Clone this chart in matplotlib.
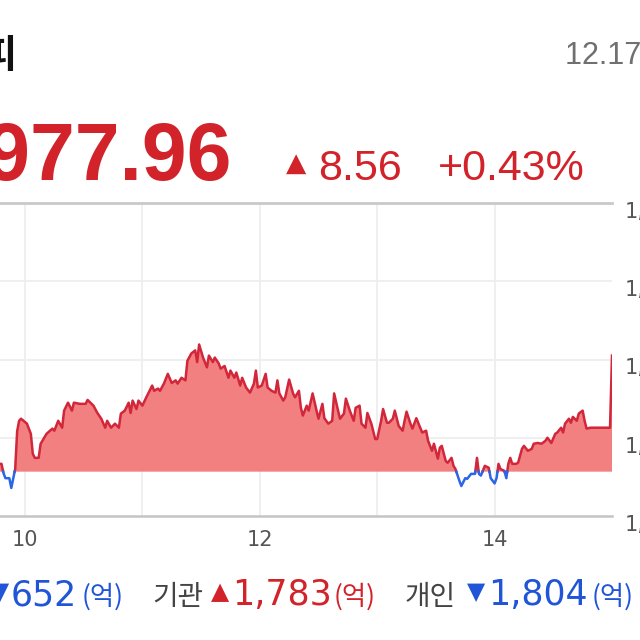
import numpy as np
import matplotlib
matplotlib.use("Agg")
import matplotlib.pyplot as plt
from matplotlib.transforms import ScaledTranslation

# ---------------- data ----------------
index_name = "코스피"
date_label = "12.17 장마감"
prev_close = 1969.40
close_value = 1977.96
change_points = 8.56
change_pct = 0.43

# minutes after 09:00 and index values (intraday)
minutes = [47, 48, 49, 50, 52, 53, 54, 55, 56, 57, 58, 61, 63, 64, 65, 67, 68, 71, 74, 75,
           77, 79, 80, 82, 84, 85, 88, 91, 92, 95, 97, 99, 101, 102, 104, 106, 108, 109, 111, 113,
           114, 115, 117, 118, 120, 122, 125, 126, 128, 129, 131, 133, 135, 137, 138, 140, 142, 143, 145, 147,
           148, 149, 151, 153, 154, 156, 157, 159, 160, 162, 164, 165, 167, 168, 170, 171, 173, 175, 177, 178,
           179, 181, 183, 184, 186, 188, 189, 190, 192, 193, 195, 197, 198, 200, 201, 202, 204, 205, 207, 209,
           210, 212, 213, 215, 217, 218, 220, 221, 223, 224, 226, 228, 229, 231, 232, 234, 235, 237, 239, 240,
           242, 243, 245, 246, 248, 249, 251, 253, 254, 255, 257, 258, 260, 262, 263, 265, 266, 268, 269, 271,
           272, 273, 275, 276, 278, 279, 280, 282, 283, 285, 286, 288, 290, 291, 292, 293, 295, 297, 298, 300,
           301, 302, 303, 305, 306, 307, 308, 309, 311, 312, 314, 315, 317, 319, 320, 322, 324, 326, 327, 329,
           331, 332, 334, 335, 336, 338, 339, 340, 342, 343, 345, 346, 347, 349, 359, 360]
values = [1970.00, 1970.00, 1969.30, 1968.90, 1968.90, 1968.15, 1968.90, 1969.60, 1972.50, 1973.30,
          1973.46, 1973.08, 1972.30, 1970.77, 1970.46, 1970.46, 1971.54, 1972.30, 1972.70, 1972.54,
          1973.30, 1972.77, 1974.08, 1974.69, 1974.08, 1974.69, 1974.60, 1974.60, 1974.90, 1974.46,
          1973.90, 1973.46, 1972.77, 1973.30, 1972.77, 1973.08, 1972.77, 1973.85, 1974.08, 1974.69,
          1973.90, 1974.85, 1974.20, 1974.85, 1974.46, 1975.10, 1976.00, 1975.60, 1975.77, 1975.60,
          1976.15, 1976.90, 1976.20, 1976.40, 1976.15, 1976.60, 1976.40, 1977.90, 1978.46, 1978.70,
          1977.80, 1979.15, 1978.15, 1977.40, 1978.30, 1977.80, 1978.15, 1977.70, 1977.30, 1977.50,
          1976.60, 1977.15, 1976.60, 1977.00, 1976.00, 1976.60, 1975.85, 1975.46, 1976.15, 1977.15,
          1975.85, 1976.00, 1976.90, 1975.85, 1975.60, 1975.46, 1976.40, 1975.40, 1974.85, 1975.10,
          1976.46, 1975.40, 1975.10, 1975.60, 1974.30, 1973.70, 1974.46, 1974.08, 1975.40, 1974.08,
          1973.46, 1974.60, 1973.50, 1973.08, 1973.30, 1975.40, 1974.08, 1973.46, 1973.85, 1975.00,
          1974.08, 1973.30, 1974.30, 1974.46, 1973.08, 1972.77, 1973.90, 1973.08, 1971.90, 1971.90,
          1973.30, 1974.20, 1973.15, 1973.15, 1973.46, 1974.08, 1972.90, 1972.54, 1973.30, 1974.00,
          1973.08, 1972.70, 1973.50, 1972.77, 1972.40, 1972.54, 1971.77, 1971.00, 1971.54, 1970.40,
          1971.23, 1971.38, 1970.23, 1970.08, 1970.46, 1969.85, 1969.60, 1968.70, 1968.30, 1968.90,
          1968.85, 1969.23, 1969.23, 1970.46, 1969.23, 1969.10, 1969.85, 1969.70, 1968.90, 1968.50,
          1968.90, 1970.00, 1969.60, 1969.46, 1968.90, 1970.00, 1970.46, 1970.00, 1970.00, 1970.08,
          1971.15, 1971.38, 1971.00, 1971.15, 1971.54, 1971.60, 1971.54, 1971.77, 1972.00, 1971.60,
          1972.30, 1972.40, 1972.77, 1972.40, 1973.08, 1973.46, 1973.15, 1973.60, 1973.30, 1973.85,
          1974.08, 1973.30, 1972.70, 1972.77, 1972.77, 1978.30]

y_ticks = [1966, 1972, 1978, 1984, 1990]
x_tick_minutes = [60, 180, 300]
x_tick_labels = ["10", "12", "14"]
grid_minutes = [60, 120, 180, 240, 300]

investors = ["외국인", "기관", "개인"]
net_flows = [-652, 1783, -1804]

# ---------------- style ----------------
RED_TXT = "#d2232a"
BLUE_TXT = "#1f55d6"
LINE_RED = "#d2263a"
FILL_RED = "#f28080"
LINE_BLUE = "#2a66e6"
W, H = 640, 640

plt.rcParams["font.family"] = ["DejaVu Sans", "Noto Sans CJK KR"]

fig = plt.figure(figsize=(6.4, 6.4), dpi=100)
fig.patch.set_facecolor("white")


def fx(x):
    return x / W


def fy(y):
    return 1 - y / H


ax_left, ax_right, ax_top, ax_bottom = 0, 612, 203, 516
ax = fig.add_axes([fx(ax_left), fy(ax_bottom), (ax_right - ax_left) / W, (ax_bottom - ax_top) / H])
ax.set_xlim(60 - 25 * 60 / 117.5, 360)
ax.set_ylim(y_ticks[0], y_ticks[-1])
for s in ax.spines.values():
    s.set_visible(False)
ax.set_xticks([])
ax.set_yticks([])

# grid
for m in grid_minutes:
    ax.axvline(m, color="#eeeeee", lw=1.3, zorder=0)
for yv in y_ticks[1:-1]:
    ax.axhline(yv, color="#eeeeee", lw=1.3, zorder=0)
ax.axhline(y_ticks[-1], color="#c9c9c9", lw=2.0, zorder=1, clip_on=False)
ax.axhline(y_ticks[0], color="#c4c4c4", lw=1.8, zorder=1, clip_on=False)

# series split at previous close
t = np.array(minutes, float)
v = np.array(values, float)
tt, vv = [t[0]], [v[0]]
for i in range(1, len(t)):
    d0, d1 = v[i - 1] - prev_close, v[i] - prev_close
    if d0 * d1 < 0:
        tc = t[i - 1] + (t[i] - t[i - 1]) * d0 / (d0 - d1)
        tt.append(tc)
        vv.append(prev_close)
    tt.append(t[i])
    vv.append(v[i])
tt = np.array(tt)
vv = np.array(vv)
up = np.where(vv >= prev_close, vv, np.nan)
dn = np.where(vv <= prev_close, vv, np.nan)
ax.fill_between(tt, prev_close, vv, where=vv >= prev_close, interpolate=True,
                color=FILL_RED, lw=0, zorder=2)
ax.plot(tt, up, color=LINE_RED, lw=1.8, zorder=3)
ax.plot(tt, dn, color=LINE_BLUE, lw=1.8, zorder=3)

# right y labels (clipped by figure edge, as in the cropped reference)
ytr = ax.get_yaxis_transform() + ScaledTranslation(0, -9 / 100, fig.dpi_scale_trans)
for yv in y_ticks:
    ax.text(1 + 13 / 612, yv, f"{yv:,}", transform=ytr, ha="left", va="center",
            fontsize=15, color="#555555", clip_on=False)

# x labels
xtr = ax.get_xaxis_transform() + ScaledTranslation(0, -24 / 100, fig.dpi_scale_trans)
for m, lab in zip(x_tick_minutes, x_tick_labels):
    ax.text(m, 0, lab, transform=xtr, ha="center", va="center", fontsize=15,
            color="#555555", clip_on=False)

# header texts
fig.text(fx(18), fy(68), index_name, ha="right", va="baseline", fontsize=28,
         fontweight="bold", family=["Noto Sans CJK KR"], color="#111111")
fig.text(fx(565), fy(64), date_label, ha="left", va="baseline", fontsize=22,
         family=["Liberation Sans", "Noto Sans CJK KR"], color="#707070")
fig.text(fx(232), fy(180), f"{close_value:,.2f}", ha="right", va="baseline",
         fontsize=58, fontweight="bold", family=["Liberation Sans"], color=RED_TXT)
fig.text(fx(296), fy(164), "▲", ha="center", va="center", fontsize=19,
         family=["DejaVu Sans"], color=RED_TXT)
fig.text(fx(318), fy(180), f"{change_points:.2f}", ha="left", va="baseline",
         fontsize=31, family=["Liberation Sans"], color=RED_TXT)
fig.text(fx(438), fy(180), f"+{change_pct:.2f}%", ha="left", va="baseline",
         fontsize=31, family=["Liberation Sans"], color=RED_TXT)

# investor flows row
row_base = 605
name_x = [-10, 152, 405]
arrow_x = [0, 220, 476]
num_x = [11, 232, 488]
unit_x = [82, 334, 592]
for i, (name, flow) in enumerate(zip(investors, net_flows)):
    col = RED_TXT if flow > 0 else BLUE_TXT
    arrow = "▲" if flow > 0 else "▼"
    fig.text(fx(name_x[i]), fy(row_base), name, ha="right" if i == 0 else "left",
             va="baseline", fontsize=20, family=["Noto Sans CJK KR"], color="#444444")
    fig.text(fx(arrow_x[i]), fy(592), arrow, ha="center", va="center", fontsize=17,
             family=["DejaVu Sans"], color=col)
    fig.text(fx(num_x[i]), fy(row_base), f"{abs(flow):,}", ha="left", va="baseline",
             fontsize=25, family=["DejaVu Sans"], color=col)
    fig.text(fx(unit_x[i]), fy(row_base), "(억)", ha="left", va="baseline",
             fontsize=19, family=["Noto Sans CJK KR"], color=col)

fig.savefig("out.png", dpi=100)
